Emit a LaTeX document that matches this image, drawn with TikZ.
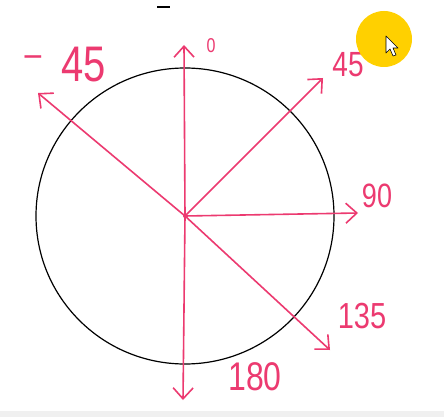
\documentclass[tikz,border=0pt]{standalone}
\usepackage{fontspec}
\setmainfont{Liberation Sans}
\usetikzlibrary{arrows.meta}
\definecolor{inkpink}{RGB}{236,58,112}
\definecolor{hilite}{RGB}{255,208,0}
\begin{document}
\begin{tikzpicture}[x=1pt,y=-1pt,
  ray/.style={draw=inkpink,line width=1.6pt,-{Straight Barb[length=11pt,width=20pt,line width=1.6pt]}},
  lbl/.style={text=inkpink,inner sep=0pt,yscale=1.25,font=\fontsize{#1}{#1}\selectfont},
  lbl/.default=24]
\useasboundingbox (0,0) rectangle (444,417);
\fill[white] (0,0) rectangle (444,417);
\fill[gray!12] (0,411) rectangle (444,417);
\draw[line width=2pt] (157,7) -- (170,7);
\coordinate (O) at (185,216);
\draw[line width=1.2pt] (O) ellipse[x radius=149, y radius=148];
\coordinate (t0) at (184,45);
\coordinate (t45) at (323,78);
\coordinate (t90) at (358,213);
\coordinate (t135) at (330,350);
\coordinate (t180) at (183,400);
\coordinate (tm45) at (38,93);
\draw[ray] (O) -- (t0);
\draw[ray] (O) -- (t45);
\draw[ray] (O) -- (t90);
\draw[ray] (O) -- (t135);
\draw[ray] (O) -- (t180);
\draw[ray] (O) -- (tm45);
\fill[inkpink] (O) circle[radius=2];
\node[lbl=16] (l0) at (211,46) {0};
\node[lbl=28] (l45) at (348,65) {45};
\node[lbl=27] (l90) at (377,196) {90};
\node[lbl=29] (l135) at (362,316) {135};
\node[lbl=32] (l180) at (255,377) {180};
\node[lbl=30] (lm45d) at (33,61) {–};
\node[lbl=40] (lm45) at (84,65) {45};
\fill[hilite] (384,39) circle[radius=28];
\draw[black,fill=white,line width=0.6pt,line join=round] (386,36) -- (386,53) -- (390,49) -- (393,56) -- (396,55) -- (393,48) -- (398,48) -- cycle;
\end{tikzpicture}
\end{document}
